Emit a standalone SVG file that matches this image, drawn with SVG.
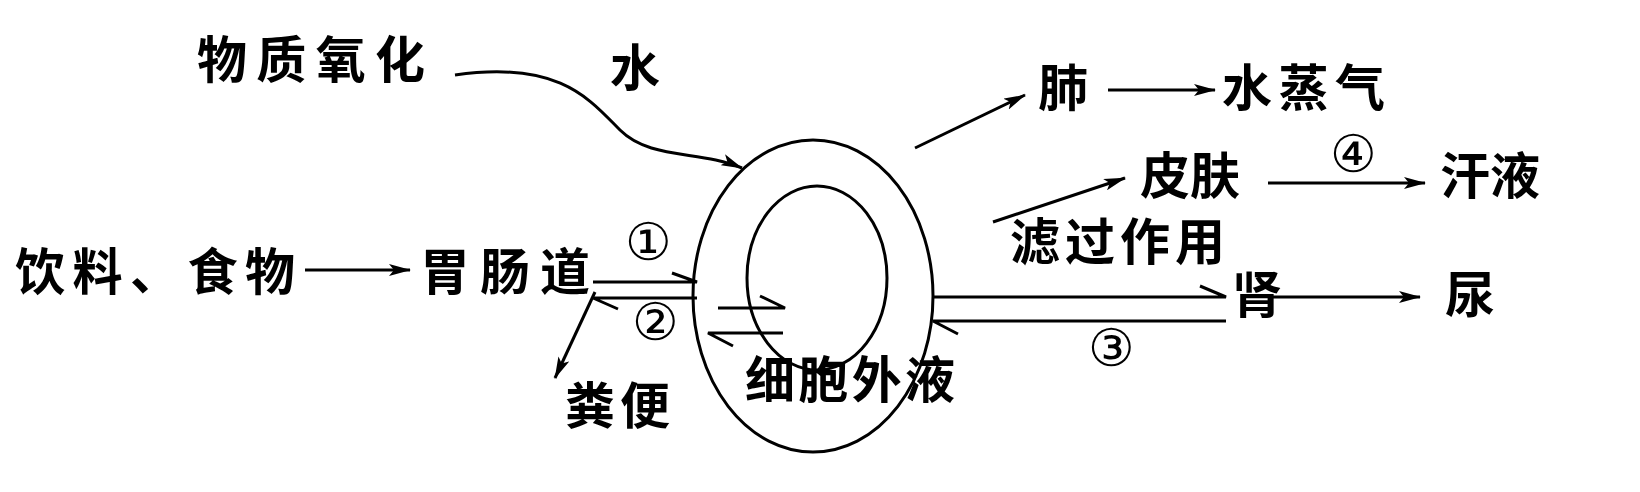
<svg xmlns="http://www.w3.org/2000/svg" width="1640" height="492" viewBox="0 0 1640 492">
<style>
text{font-family:"Noto Sans CJK SC","Noto Sans",sans-serif;font-size:50px;font-weight:bold;fill:#000}
.c{font-family:"DejaVu Sans","Noto Sans CJK SC",sans-serif;font-size:52px;font-weight:normal}
.l{stroke:#000;stroke-width:3;fill:none}
</style>
<defs><marker id="a" markerWidth="22" markerHeight="12" refX="21" refY="6" orient="auto" markerUnits="userSpaceOnUse"><path d="M0,0 L22,6 L0,12 L5,6Z" fill="#000"/></marker></defs>
<rect width="1640" height="492" fill="#fff"/>
<g id="cells"><ellipse class="l" cx="813" cy="296" rx="120" ry="156"/><ellipse class="l" cx="817" cy="278" rx="70" ry="92"/></g>
<g id="labels">
<text x="197" y="78" textLength="228">物质氧化</text>
<text x="610" y="86">水</text>
<text x="1038" y="106">肺</text>
<text x="1222" y="106" textLength="163">水蒸气</text>
<text x="1330" y="172" class="c">④</text>
<text x="1140" y="194" textLength="100">皮肤</text>
<text x="1440" y="194" textLength="100">汗液</text>
<text x="1010" y="260" textLength="215">滤过作用</text>
<text x="15" y="290" textLength="280">饮料、食物</text>
<text x="420" y="290" textLength="170">胃肠道</text>
<text x="625" y="260" class="c">①</text>
<text x="632" y="340" class="c">②</text>
<text x="1232" y="313">肾</text>
<text x="1445" y="313">尿</text>
<text x="1088" y="366" class="c">③</text>
<text x="565" y="424" textLength="105">粪便</text>
<text x="745" y="398" textLength="210">细胞外液</text>
</g>
<g id="connectors" class="l">
<path d="M455,75 C560,60 590,100 620,130 S700,150 742,168" marker-end="url(#a)"/>
<path d="M305,270 L410,270" marker-end="url(#a)"/>
<path d="M595,292 L555,378" marker-end="url(#a)"/>
<path d="M915,148 L1025,95" marker-end="url(#a)"/>
<path d="M1108,90 L1215,90" marker-end="url(#a)"/>
<path d="M993,222 L1125,178" marker-end="url(#a)"/>
<path d="M1268,183 L1425,183" marker-end="url(#a)"/>
<path d="M1268,297 L1420,297" marker-end="url(#a)"/>
<path d="M593,282 L697,282 L672,273"/>
<path d="M697,298 L593,298 L618,309"/>
<path d="M718,308 L785,308 L760,296"/>
<path d="M783,333 L708,333 L733,346"/>
<path d="M933,297 L1226,297 L1200,286"/>
<path d="M1226,321 L933,321 L958,334"/>
</g>
</svg>
